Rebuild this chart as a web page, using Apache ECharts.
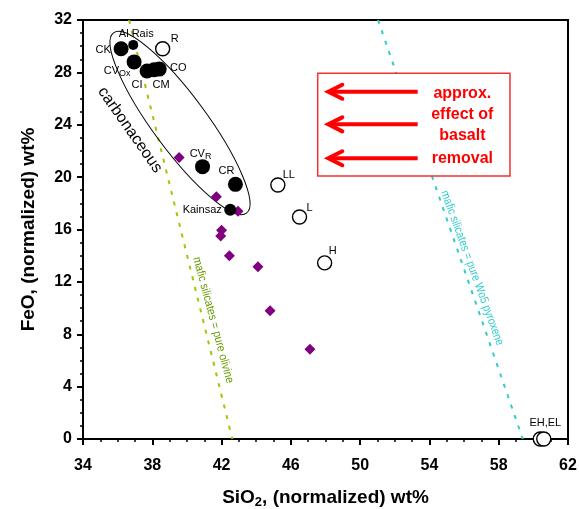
<!DOCTYPE html>
<html>
<head>
<meta charset="utf-8">
<script src="https://cdn.jsdelivr.net/npm/echarts@6/dist/echarts.min.js"></script>
<style>
  html, body { margin: 0; padding: 0; background: #fff; }
  #chart { width: 579px; height: 509px; }
</style>
</head>
<body>
<div id="chart"></div>
<script>
// SiO2 vs FeO (normalized wt%) for chondrite groups

// Carbonaceous chondrites (filled circles): [SiO2, FeO, name]
const carbonaceous = [
  [36.2, 29.8, 'CK'],
  [36.9, 30.1, 'Al Rais'],
  [36.95, 28.8, 'CVOx'],
  [37.7, 28.1, 'CI'],
  [38.1, 28.2, 'CM'],
  [38.4, 28.25, 'CO'],
  [40.9, 20.8, 'CVR'],
  [42.8, 19.45, 'CR'],
  [42.5, 17.5, 'Kainsaz']
];

// Ordinary, enstatite and R chondrites (open circles)
const otherChondrites = [
  [38.6, 29.8, 'R'],
  [45.25, 19.4, 'LL'],
  [46.5, 16.95, 'L'],
  [47.95, 13.45, 'H'],
  [60.4, 0, 'EH,EL'],
  [60.6, 0, '']
];

// Individual samples (purple diamonds)
const samples = [
  [39.55, 21.5],
  [41.7, 18.5],
  [42.95, 17.4],
  [42.0, 15.95],
  [41.95, 15.5],
  [42.45, 14.0],
  [44.1, 13.15],
  [44.8, 9.8],
  [47.1, 6.85]
];

// Mixing lines: pure olivine and pure Wo5 pyroxene mafic silicates
const olivineLine = [[36.66, 32], [42.62, 0]];
const pyroxeneLine = [[51.03, 32], [59.39, 0]];

// Axis ranges and ticks
const xTicks = { min: 34, max: 62, interval: 4 };
const yTicks = { min: 0, max: 32, interval: 4 };

// Label text for the arrow box
const boxLines = ['approx.', 'effect of', 'basalt', 'removal'];

// Per-label placement (offset of label centre from the marker centre, px)
const labelOffsets = {
  'CK': [-18, 1], 'Al Rais': [3, -11], 'CVOx': [-17, 9], 'CI': [-10, 14],
  'CM': [7, 15], 'CO': [19, -1], 'CVR': [-2, -13], 'CR': [-9, -13],
  'Kainsaz': [-28, 0], 'R': [12, -10], 'LL': [11, -10], 'L': [10, -9],
  'H': [8, -12], 'EH,EL': [5, -16]
};
const markerSizes = { 'Al Rais': 10, 'Kainsaz': 12 };

const FONT = 'Arial, "Liberation Sans", sans-serif';

const labelRich = {
  n: { fontSize: 11, fontFamily: FONT, color: '#000' },
  sub: { fontSize: 9, fontFamily: FONT, color: '#000', verticalAlign: 'bottom', padding: [5, 0, 0, 0] }
};
function labelText(name) {
  if (name === 'CVOx') return '{n|CV}{sub|Ox}';
  if (name === 'CVR') return '{n|CV}{sub|R}';
  return name ? '{n|' + name + '}' : '';
}
function toData(arr) {
  return arr.map(function (d) {
    const off = labelOffsets[d[2]] || [0, 0];
    return {
      value: [d[0], d[1]],
      name: d[2],
      symbolSize: markerSizes[d[2]] || undefined,
      label: { show: !!d[2], position: 'inside', offset: off, formatter: labelText(d[2]), rich: labelRich }
    };
  });
}

const chart = echarts.init(document.getElementById('chart'));

const axisCommon = {
  axisLine: { show: true, onZero: false, lineStyle: { color: '#000', width: 2 } },
  axisTick: { show: true, inside: false, length: 6, lineStyle: { color: '#000', width: 2 } },
  minorTick: { show: true, splitNumber: 4, length: 3, lineStyle: { color: '#000', width: 1.5 } },
  splitLine: { show: false },
  axisLabel: { color: '#000', fontWeight: 'bold', fontSize: 16, fontFamily: FONT }
};

chart.setOption({
  animation: false,
  backgroundColor: '#fff',
  grid: {
    left: 83, right: 11, top: 20, bottom: 70, containLabel: false, outerBoundsMode: 'none',
    show: true, borderColor: '#000', borderWidth: 2
  },
  xAxis: Object.assign({}, axisCommon, {
    type: 'value', min: xTicks.min, max: xTicks.max, interval: xTicks.interval,
    axisLabel: Object.assign({}, axisCommon.axisLabel, { margin: 19 }),
    name: '{a|SiO}{s|2}{a|, (normalized) wt%}',
    nameLocation: 'middle', nameGap: 48,
    nameTextStyle: {
      rich: {
        a: { fontSize: 19, fontWeight: 'bold', fontFamily: FONT, color: '#000' },
        s: { fontSize: 13, fontWeight: 'bold', fontFamily: FONT, color: '#000', verticalAlign: 'bottom', padding: [9, 0, 0, 0] }
      }
    }
  }),
  yAxis: Object.assign({}, axisCommon, {
    type: 'value', min: yTicks.min, max: yTicks.max, interval: yTicks.interval,
    axisLabel: Object.assign({}, axisCommon.axisLabel, { margin: 11 }),
    name: 'FeO, (normalized) wt%',
    nameLocation: 'middle', nameGap: 45,
    nameTextStyle: { fontSize: 19, fontWeight: 'bold', fontFamily: FONT, color: '#000' }
  }),
  series: [
    {
      type: 'line', data: olivineLine, symbol: 'none', silent: true, z: 1,
      lineStyle: { color: '#99cc00', width: 2, type: [4, 7] }
    },
    {
      type: 'line', data: pyroxeneLine, symbol: 'none', silent: true, z: 1,
      lineStyle: { color: '#33cccc', width: 2, type: [4, 7] }
    },
    {
      type: 'scatter', data: samples, symbol: 'diamond', symbolSize: 11, z: 3,
      itemStyle: { color: '#800080', opacity: 1 }
    },
    {
      type: 'scatter', data: toData(carbonaceous), symbol: 'circle', symbolSize: 15, z: 4,
      itemStyle: { color: '#000', opacity: 1 }
    },
    {
      type: 'scatter', data: toData(otherChondrites), symbol: 'circle', symbolSize: 14, z: 4,
      itemStyle: { color: '#fff', borderColor: '#000', borderWidth: 1.4, opacity: 1 }
    }
  ]
});

// Annotations anchored to data coordinates
function px(x, y) { return chart.convertToPixel({ gridIndex: 0 }, [x, y]); }
const deg = Math.PI / 180;

const ellC = px(39.6, 24.13);
const boxTL = px(47.55, 27.93);
const boxBR = px(58.65, 20.09);
const arrowYs = [26.52, 24.03, 21.44];
const arrowFrom = 53.32, arrowTo = 48.16;
const textX = px(55.9, 0)[0];
const textYs = [26.4, 24.8, 23.2, 21.45];

function centredText(x, y, rot, text, font, fill, sx) {
  return {
    type: 'text', x: x, y: y, rotation: rot, scaleX: sx || 1, z: 6,
    style: { text: text, font: font, fill: fill, align: 'center', verticalAlign: 'middle', textAlign: 'center', textVerticalAlign: 'middle' }
  };
}

const pCarb = px(36.71, 23.6);
const pOl = px(41.51, 9.09);
const pPx = px(56.46, 13.06);

const graphics = [
  {
    type: 'ellipse', x: ellC[0], y: ellC[1], rotation: -53.6 * deg, z: 2,
    shape: { cx: 0, cy: 0, rx: 112, ry: 27 },
    style: { fill: 'none', stroke: '#000', lineWidth: 1 }
  },
  centredText(pCarb[0], pCarb[1], -55 * deg, 'carbonaceous', '16px ' + FONT, '#000'),
  centredText(pOl[0], pOl[1], -75 * deg, 'mafic silicates = pure olivine', '12px ' + FONT, '#669900', 0.87),
  centredText(pPx[0], pPx[1], -70 * deg, 'mafic silicates = pure Wo5 pyroxene', '12px ' + FONT, '#33cccc', 0.85),
  {
    type: 'rect', z: 5,
    shape: { x: boxTL[0], y: boxTL[1], width: boxBR[0] - boxTL[0], height: boxBR[1] - boxTL[1] },
    style: { fill: '#fff', stroke: '#ee3333', lineWidth: 1.5 }
  }
];

arrowYs.forEach(function (yv) {
  const a = px(arrowFrom, yv), b = px(arrowTo, yv);
  graphics.push({
    type: 'line', z: 6,
    shape: { x1: a[0], y1: a[1], x2: b[0] + 2, y2: b[1] },
    style: { stroke: '#ff0000', lineWidth: 4 }
  });
  graphics.push({
    type: 'polyline', z: 6,
    shape: { points: [[b[0] + 14, b[1] - 7], [b[0], b[1]], [b[0] + 14, b[1] + 7]] },
    style: { stroke: '#ff0000', lineWidth: 4, fill: 'none', lineJoin: 'miter', lineCap: 'round' }
  });
});

boxLines.forEach(function (t, i) {
  const y = px(0, textYs[i])[1];
  graphics.push(centredText(textX, y, 0, t, 'bold 16px ' + FONT, '#ff0000'));
});

chart.setOption({ graphic: graphics });
</script>
</body>
</html>
